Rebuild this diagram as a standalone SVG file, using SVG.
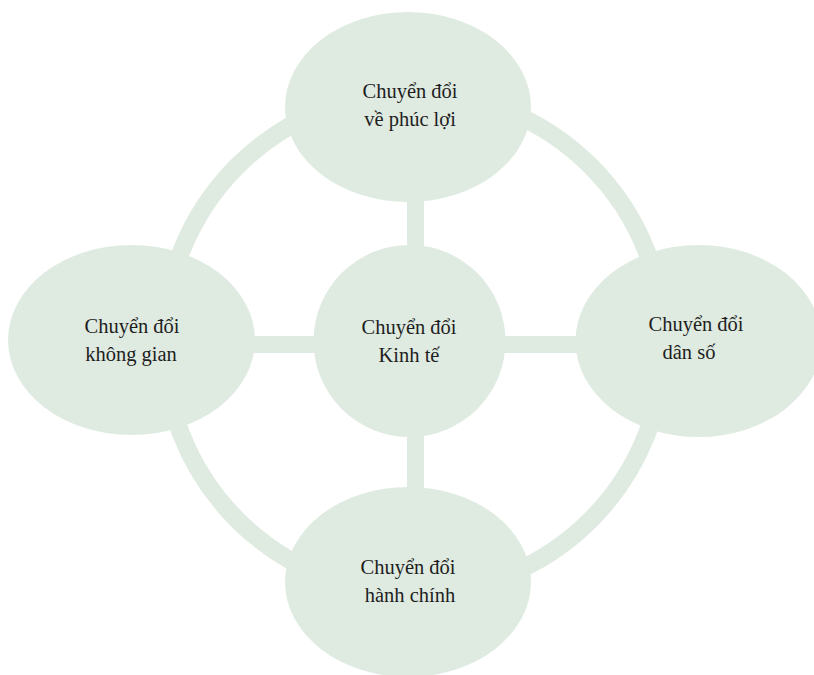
<svg xmlns="http://www.w3.org/2000/svg" width="814" height="675" viewBox="0 0 814 675">
<style>
.n{fill:#dfebe1}
.c{fill:none;stroke:#dfebe1;stroke-width:18}
.t{font-family:"Liberation Serif","DejaVu Serif",serif;font-size:20.5px;fill:#1e1e1e;text-anchor:middle}
</style>
<rect width="814" height="675" fill="#ffffff"/>
<g id="connectors">
<circle class="c" cx="414" cy="343" r="250"/>
<line class="c" x1="415.5" y1="150" x2="415.5" y2="540" style="stroke-width:17"/>
<line class="c" x1="200" y1="344.5" x2="630" y2="344.5" style="stroke-width:17"/>
</g>
<g id="n-center"><circle class="n" cx="409.5" cy="341" r="96"/>
<text class="t" x="409" y="334">Chuyển đổi</text><text class="t" x="409" y="362">Kinh tế</text></g>
<g id="n-top"><ellipse class="n" cx="408" cy="107" rx="123" ry="95"/>
<text class="t" x="410" y="98">Chuyển đổi</text><text class="t" x="410" y="126">về phúc lợi</text></g>
<g id="n-left"><ellipse class="n" cx="131.5" cy="340" rx="123.5" ry="95"/>
<text class="t" x="132" y="333">Chuyển đổi</text><text class="t" x="131" y="361">không gian</text></g>
<g id="n-right"><ellipse class="n" cx="698.5" cy="341" rx="123" ry="96"/>
<text class="t" x="696" y="331">Chuyển đổi</text><text class="t" x="689" y="359">dân số</text></g>
<g id="n-bottom"><ellipse class="n" cx="408" cy="582" rx="123" ry="95"/>
<text class="t" x="408" y="574">Chuyển đổi</text><text class="t" x="410" y="602">hành chính</text></g>
</svg>
